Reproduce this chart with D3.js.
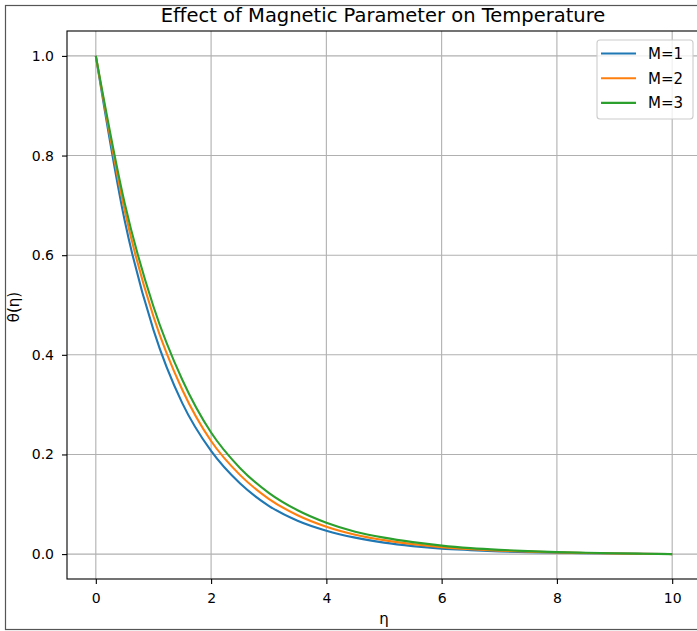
<!DOCTYPE html>
<html>
<head>
<meta charset="utf-8">
<script src="https://cdn.jsdelivr.net/npm/d3@7"></script>
<style>
  body { margin: 0; background: #fff; }
  svg { display: block; font-family: "DejaVu Sans", sans-serif; }
</style>
</head>
<body>
<div id="viz"></div>
<script>
// values
var eta = [0, 0.5, 1, 1.5, 2, 2.5, 3, 3.5, 4, 4.5, 5, 5.5, 6, 6.5, 7, 7.5, 8, 8.5, 9, 9.5, 10];
var thetaM1 = [1, 0.670, 0.450, 0.303, 0.207, 0.142, 0.097, 0.067, 0.047, 0.033, 0.023, 0.016, 0.011, 0.008, 0.0055, 0.0038, 0.0026, 0.0017, 0.0011, 0.0006, 0];
var thetaM2 = [1, 0.690, 0.477, 0.330, 0.227, 0.159, 0.111, 0.078, 0.055, 0.039, 0.028, 0.020, 0.014, 0.010, 0.007, 0.005, 0.0034, 0.0022, 0.0013, 0.0007, 0];
var thetaM3 = [1, 0.705, 0.497, 0.350, 0.244, 0.173, 0.123, 0.088, 0.063, 0.045, 0.033, 0.024, 0.017, 0.012, 0.0085, 0.006, 0.004, 0.0027, 0.0016, 0.0008, 0];
var seriesNames = ["M=1", "M=2", "M=3"];
var seriesColors = ["#1f77b4", "#ff7f0e", "#2ca02c"];
var xTicks = [0, 2, 4, 6, 8, 10];
var yTicks = [0.0, 0.2, 0.4, 0.6, 0.8, 1.0];

var W = 697, H = 631;
var plotL = 67, plotR = 701, plotT = 31, plotB = 579;

var svg = d3.select("#viz").append("svg")
  .attr("width", W).attr("height", H);

svg.append("rect").attr("width", W).attr("height", H).attr("fill", "#fff");

// figure frame
svg.append("rect")
  .attr("x", 5.5).attr("y", 5.5).attr("width", 760).attr("height", 624)
  .attr("fill", "none").attr("stroke", "#555").attr("stroke-width", 1.2);

var x = d3.scaleLinear().domain([-0.5, 10.5]).range([plotL, plotR]);
var y = d3.scaleLinear().domain([-0.05, 1.05]).range([plotB, plotT]);

// grid
svg.append("g").selectAll("line").data(xTicks).join("line")
  .attr("x1", d => x(d)).attr("x2", d => x(d))
  .attr("y1", plotT).attr("y2", plotB)
  .attr("stroke", "#b0b0b0").attr("stroke-width", 1.1);
svg.append("g").selectAll("line").data(yTicks).join("line")
  .attr("x1", plotL).attr("x2", plotR)
  .attr("y1", d => y(d)).attr("y2", d => y(d))
  .attr("stroke", "#b0b0b0").attr("stroke-width", 1.1);

// lines
var data = [thetaM1, thetaM2, thetaM3];
var line = d3.line()
  .x((d, i) => x(eta[i]))
  .y(d => y(d))
  .curve(d3.curveMonotoneX);
data.forEach(function(s, k) {
  svg.append("path").datum(s)
    .attr("fill", "none")
    .attr("stroke", seriesColors[k])
    .attr("stroke-width", 2.1)
    .attr("d", line);
});

// axes
var xAxis = svg.append("g")
  .attr("transform", "translate(0," + plotB + ")")
  .call(d3.axisBottom(x).tickValues(xTicks).tickFormat(d3.format("d")).tickSize(5).tickPadding(9).tickSizeOuter(0));
var yAxis = svg.append("g")
  .attr("transform", "translate(" + plotL + ",0)")
  .call(d3.axisLeft(y).tickValues(yTicks).tickFormat(d3.format(".1f")).tickSize(5).tickPadding(8).tickSizeOuter(0));
[xAxis, yAxis].forEach(function(a) {
  a.selectAll("text").attr("font-size", 14).attr("font-family", "DejaVu Sans, sans-serif").attr("fill", "#000");
  a.selectAll(".tick line").attr("stroke", "#000").attr("stroke-width", 1.1);
  a.select(".domain").remove();
});

// spines
svg.append("rect")
  .attr("x", plotL).attr("y", plotT).attr("width", plotR - plotL).attr("height", plotB - plotT)
  .attr("fill", "none").attr("stroke", "#000").attr("stroke-width", 1.1);

// title & labels
svg.append("text")
  .attr("x", (plotL + plotR) / 2 - 1).attr("y", 22)
  .attr("text-anchor", "middle").attr("font-size", 19.5)
  .text("Effect of Magnetic Parameter on Temperature");
svg.append("text")
  .attr("x", (plotL + plotR) / 2).attr("y", 624)
  .attr("text-anchor", "middle").attr("font-size", 15)
  .text("η");
svg.append("text")
  .attr("transform", "translate(19," + ((plotT + plotB) / 2 + 2) + ") rotate(-90)")
  .attr("text-anchor", "middle").attr("font-size", 15)
  .text("θ(η)");

// legend
var lg = svg.append("g");
lg.append("rect")
  .attr("x", 597).attr("y", 40).attr("width", 96).attr("height", 79).attr("rx", 3)
  .attr("fill", "#fff").attr("fill-opacity", 0.8)
  .attr("stroke", "#ccc").attr("stroke-width", 1.1);
seriesNames.forEach(function(n, k) {
  var yy = 53.5 + k * 24.7;
  lg.append("line")
    .attr("x1", 601).attr("x2", 636).attr("y1", yy).attr("y2", yy)
    .attr("stroke", seriesColors[k]).attr("stroke-width", 2.1);
  lg.append("text")
    .attr("x", 648).attr("y", yy + 5.5).attr("font-size", 15)
    .text(n);
});
</script>
</body>
</html>
